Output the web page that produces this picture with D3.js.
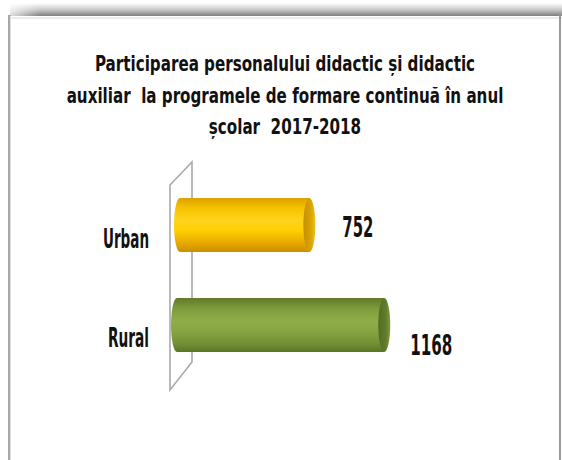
<!DOCTYPE html>
<html>
<head>
<meta charset="utf-8">
<script src="https://cdn.jsdelivr.net/npm/d3@7/dist/d3.min.js"></script>
<style>
  html, body { margin: 0; padding: 0; background: #fff; }
  svg { display: block; }
  text { font-family: "DejaVu Sans Condensed", "Liberation Sans Narrow", "Liberation Sans", sans-serif; font-weight: bold; fill: #111; white-space: pre; }
</style>
</head>
<body>
<svg id="chart" width="562" height="460"></svg>
<script>
const titleLines = [
  "Participarea personalului didactic și didactic",
  "auxiliar  la programele de formare continuă în anul",
  "școlar  2017-2018"
];
const categories = ["Urban", "Rural"];
const values = [752, 1168];

const W = 562, H = 460;
const svg = d3.select("#chart");
const defs = svg.append("defs");

// frame gradients
const gTop = defs.append("linearGradient").attr("id", "gTop").attr("x1", 0).attr("y1", 0).attr("x2", 0).attr("y2", 1);
gTop.append("stop").attr("offset", "0%").attr("stop-color", "#ffffff");
gTop.append("stop").attr("offset", "55%").attr("stop-color", "#c4c4c4");
gTop.append("stop").attr("offset", "100%").attr("stop-color", "#7e7e7e");
const gTopFade = defs.append("linearGradient").attr("id", "gTopFade").attr("x1", 0).attr("y1", 0).attr("x2", 1).attr("y2", 0);
gTopFade.append("stop").attr("offset", "0%").attr("stop-color", "#fff").attr("stop-opacity", 1);
gTopFade.append("stop").attr("offset", "100%").attr("stop-color", "#fff").attr("stop-opacity", 0);

// frame
svg.append("rect").attr("x", 10).attr("y", 3).attr("width", W - 10).attr("height", 13).attr("fill", "url(#gTop)");
svg.append("rect").attr("x", 0).attr("y", 0).attr("width", 40).attr("height", 16).attr("fill", "url(#gTopFade)");
svg.append("line").attr("x1", 10).attr("x2", W).attr("y1", 18).attr("y2", 18).attr("stroke", "#d8d8d8").attr("stroke-width", 1);
svg.append("rect").attr("x", 8).attr("y", 15).attr("width", 3).attr("height", H - 15).attr("fill", "#a8a8a8");
svg.append("line").attr("x1", 10.5).attr("x2", 10.5).attr("y1", 16).attr("y2", H).attr("stroke", "#e0e0e0");
svg.append("rect").attr("x", 559).attr("y", 15).attr("width", 2).attr("height", H - 15).attr("fill", "#9a9a9a");

// title (condensed horizontally)
const titleBase = [71, 103, 134];
svg.append("g").attr("transform", "translate(285,0) scale(0.765,1)")
  .selectAll("text").data(titleLines).join("text")
  .attr("x", 0)
  .attr("y", (d, i) => titleBase[i])
  .attr("text-anchor", "middle")
  .attr("font-size", 22)
  .text(d => d);

// scales
const y = d3.scaleBand().domain(categories).range([175, 375]).paddingInner(0.46).paddingOuter(0.23);
const x = d3.scaleLinear().domain([0, 1200]).range([180, 396]);

// wall (3D back plane)
const wall = d3.path();
wall.moveTo(170, 185); wall.lineTo(192, 162); wall.lineTo(192, 362); wall.lineTo(170, 390); wall.closePath();
svg.append("path").attr("d", wall.toString()).attr("fill", "#fff").attr("stroke", "#a9a9a9").attr("stroke-width", 1.6);

// cylinder gradients
const palettes = [
  { body: ["#dca100", "#f7c400", "#ffd21c", "#ffd000", "#e6a600", "#c98f00"], cap: ["#c69000", "#d8a400", "#f0c020"] },
  { body: ["#60792a", "#7e9c3c", "#8fae48", "#88a743", "#728f33", "#5b7426"], cap: ["#546c22", "#607a2a", "#7d9a3c"] }
];
palettes.forEach((p, i) => {
  const g = defs.append("linearGradient").attr("id", "body" + i).attr("x1", 0).attr("y1", 0).attr("x2", 0).attr("y2", 1);
  const offs = [0, 0.2, 0.42, 0.6, 0.85, 1];
  p.body.forEach((c, k) => g.append("stop").attr("offset", offs[k]).attr("stop-color", c));
  const gc = defs.append("linearGradient").attr("id", "cap" + i).attr("x1", 0).attr("y1", 0).attr("x2", 1).attr("y2", 0);
  [0, 0.6, 1].forEach((o, k) => gc.append("stop").attr("offset", o).attr("stop-color", p.cap[k]));
});

const rx = 6;
const bars = svg.append("g").selectAll("g").data(categories).join("g");
bars.each(function (cat, i) {
  const g = d3.select(this);
  const top = y(cat), bw = y.bandwidth(), bot = top + bw, ry = bw / 2;
  const x0 = x(0) - (i === 1 ? 3 : 0);
  const xe = x(values[i]);
  const xc = xe - rx;
  const p = d3.path();
  p.moveTo(x0, top); p.lineTo(xc, top); p.lineTo(xc, bot); p.lineTo(x0, bot);
  g.append("path")
    .attr("d", p.toString() + ` A ${rx} ${ry} 0 0 1 ${x0} ${top} Z`)
    .attr("fill", `url(#body${i})`);
  g.append("ellipse").attr("cx", xc).attr("cy", top + ry).attr("rx", rx).attr("ry", ry)
    .attr("fill", `url(#cap${i})`);
});

// category labels
const catBase = [248, 347];
svg.append("g").selectAll("text").data(categories).join("text")
  .attr("x", 149)
  .attr("y", (d, i) => catBase[i])
  .attr("text-anchor", "end")
  .attr("font-size", 26)
  .attr("textLength", (d, i) => [46, 41][i])
  .attr("lengthAdjust", "spacingAndGlyphs")
  .text(d => d);

// value labels
const labDx = [27, 20];
const labBase = [237, 355];
svg.append("g").selectAll("text").data(values).join("text")
  .attr("x", (d, i) => x(d) + labDx[i])
  .attr("y", (d, i) => labBase[i])
  .attr("font-size", 28)
  .attr("textLength", (d, i) => [31, 42][i])
  .attr("lengthAdjust", "spacingAndGlyphs")
  .text(d => d);
</script>
</body>
</html>
